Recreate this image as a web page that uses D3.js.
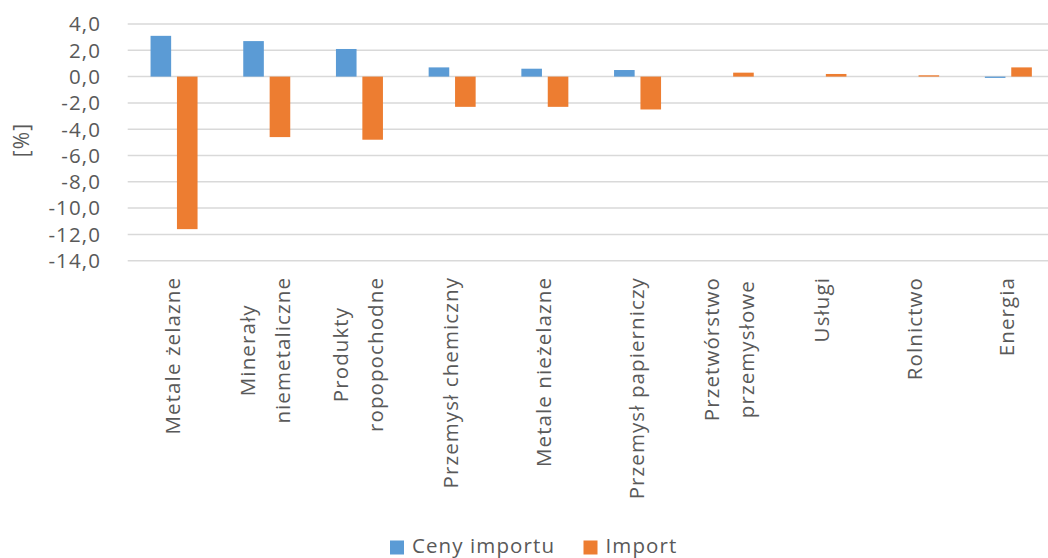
<!DOCTYPE html>
<html lang="pl">
<head>
<meta charset="utf-8">
<script src="https://cdn.jsdelivr.net/npm/d3@7"></script>
<style>
  html, body { margin: 0; padding: 0; background: #fff; }
  svg { display: block; overflow: hidden; }
  text { font-family: "Open Sans", "Noto Sans", sans-serif; fill: #595959; font-size: 20.5px; letter-spacing: 1.1px; }
</style>
</head>
<body>
<svg id="chart" width="1048" height="558"></svg>
<script>
// Categories (each entry is a list of label lines)
const categories = [
  ["Metale żelazne"],
  ["Minerały", "niemetaliczne"],
  ["Produkty", "ropopochodne"],
  ["Przemysł chemiczny"],
  ["Metale nieżelazne"],
  ["Przemysł papierniczy"],
  ["Przetwórstwo", "przemysłowe"],
  ["Usługi"],
  ["Rolnictwo"],
  ["Energia"]
];
const seriesNames = ["Ceny importu", "Import"];
const cenyImportu = [3.1, 2.7, 2.1, 0.7, 0.6, 0.5, 0.0, 0.0, 0.0, -0.1];
const importVals = [-11.6, -4.6, -4.8, -2.3, -2.3, -2.5, 0.3, 0.2, 0.1, 0.7];
const yTicks = [4, 2, 0, -2, -4, -6, -8, -10, -12, -14];
const colors = ["#5b9bd5", "#ed7d31"];

const svg = d3.select("#chart");
const plot = { left: 127.7, right: 1054.7, top: 24, bottom: 260.7 };

const rows = categories.map((c, i) => ({
  key: i,
  lines: c,
  values: [cenyImportu[i], importVals[i]]
}));

const x0 = d3.scaleBand()
  .domain(rows.map(r => r.key))
  .range([plot.left, plot.right])
  .paddingInner(0.493)
  .paddingOuter(0.2465);

const x1 = d3.scaleBand()
  .domain([0, 1])
  .range([0, x0.bandwidth()])
  .paddingInner(0.22);

const y = d3.scaleLinear().domain([-14, 4]).range([plot.bottom, plot.top]);

const fmt = v => d3.format(".1f")(v).replace(".", ",").replace("−", "-");

// Gridlines
svg.append("g")
  .selectAll("line")
  .data(yTicks)
  .join("line")
  .attr("x1", plot.left)
  .attr("x2", plot.right)
  .attr("y1", d => y(d))
  .attr("y2", d => y(d))
  .attr("stroke", "#d9d9d9")
  .attr("stroke-width", 1.5);

// Y tick labels
svg.append("g")
  .selectAll("text")
  .data(yTicks)
  .join("text")
  .attr("x", 101)
  .attr("y", d => y(d))
  .attr("dy", "0.36em")
  .attr("text-anchor", "end")
  .text(d => fmt(d));

// Y axis title
svg.append("text")
  .attr("transform", "translate(29,140) rotate(-90)")
  .attr("text-anchor", "middle")
  .style("font-size", "21px")
  .text("[%]");

// Bars
const groups = svg.append("g")
  .selectAll("g")
  .data(rows)
  .join("g")
  .attr("transform", d => `translate(${x0(d.key)},0)`);

groups.selectAll("rect")
  .data(d => d.values.map((v, s) => ({ s, v })))
  .join("rect")
  .attr("x", d => x1(d.s))
  .attr("width", x1.bandwidth())
  .attr("y", d => y(Math.max(0, d.v)))
  .attr("height", d => Math.abs(y(d.v) - y(0)))
  .attr("fill", d => colors[d.s]);

// Category labels, rotated, lines centred on each other
const labelTop = 277;
const lineGap = 35;
const catG = svg.append("g");
rows.forEach(r => {
  const cx = x0(r.key) + x0.bandwidth() / 2;
  const n = r.lines.length;
  const texts = r.lines.map((line, j) => {
    const off = (j - (n - 1) / 2) * lineGap + 6;
    return catG.append("text")
      .attr("text-anchor", "middle")
      .attr("data-off", off)
      .text(line);
  });
  const maxLen = d3.max(texts, t => t.node().getComputedTextLength());
  const cy = labelTop + maxLen / 2;
  texts.forEach(t => {
    const off = +t.attr("data-off");
    t.attr("transform", `translate(${cx + off},${cy}) rotate(-90)`);
  });
});

// Legend
const legend = svg.append("g");
const legendItems = [
  { name: seriesNames[0], color: colors[0], x: 390 },
  { name: seriesNames[1], color: colors[1], x: 583.5 }
];
legendItems.forEach(it => {
  legend.append("rect")
    .attr("x", it.x).attr("y", 540.5)
    .attr("width", 14).attr("height", 14)
    .attr("fill", it.color);
  legend.append("text")
    .attr("x", it.x + 22).attr("y", 553)
    .text(it.name);
});
</script>
</body>
</html>
